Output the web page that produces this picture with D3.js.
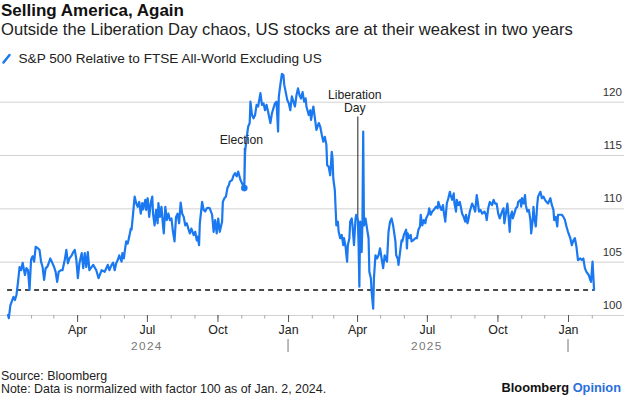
<!DOCTYPE html>
<html>
<head>
<meta charset="utf-8">
<script src="https://cdn.jsdelivr.net/npm/d3@7"></script>
<style>
  body { margin: 0; background: #fff; }
  text { font-family: "Liberation Sans", Arial, sans-serif; fill: #222; }
</style>
</head>
<body>
<svg id="chart" width="624" height="398"></svg>
<script>
// S&P 500 relative to FTSE All-World ex US, normalized to 100 on Jan. 2, 2024
var series = [
  ["2024-01-02",100.0],["2024-01-03",99.7],["2024-01-05",100.9],["2024-01-09",101.7],["2024-01-11",101.4],["2024-01-13",101.9],["2024-01-15",103.1],["2024-01-17",104.5],["2024-01-19",104.2],["2024-01-21",104.9],["2024-01-24",103.75],["2024-01-26",104.4],["2024-01-28",104.2],["2024-01-30",102.35],
  ["2024-02-01",105.2],["2024-02-03",105.5],["2024-02-05",105.0],["2024-02-07",106.4],["2024-02-10",106.25],["2024-02-12",106.1],["2024-02-14",105.0],["2024-02-16",104.5],["2024-02-18",103.3],["2024-02-20",104.4],["2024-02-22",104.5],["2024-02-24",104.85],["2024-02-26",105.3],["2024-02-28",105.0],
  ["2024-03-02",104.5],["2024-03-04",104.05],["2024-03-06",103.1],["2024-03-08",104.05],["2024-03-11",104.2],["2024-03-13",104.2],["2024-03-16",105.2],["2024-03-18",106.1],["2024-03-20",104.85],["2024-03-22",105.3],["2024-03-25",105.6],["2024-03-27",105.9],["2024-03-29",106.1],["2024-03-31",105.2],
  ["2024-04-02",103.45],["2024-04-04",104.85],["2024-04-07",105.8],["2024-04-09",104.4],["2024-04-11",105.8],["2024-04-13",104.5],["2024-04-15",105.9],["2024-04-17",104.2],["2024-04-22",104.7],["2024-04-26",104.2],["2024-04-29",103.45],
  ["2024-05-03",104.2],["2024-05-07",104.05],["2024-05-11",104.7],["2024-05-13",104.2],["2024-05-16",104.7],["2024-05-18",104.9],["2024-05-20",104.2],["2024-05-22",104.85],["2024-05-24",105.15],["2024-05-26",105.6],["2024-05-29",105.0],["2024-05-30",105.8],
  ["2024-06-01",105.3],["2024-06-02",105.9],["2024-06-04",106.9],["2024-06-06",106.7],["2024-06-08",107.35],["2024-06-10",108.1],["2024-06-11",108.0],["2024-06-13",109.5],["2024-06-15",111.1],["2024-06-17",110.5],["2024-06-19",110.15],["2024-06-21",110.6],["2024-06-23",109.5],["2024-06-25",110.5],["2024-06-26",109.9],["2024-06-29",110.8],["2024-06-30",109.85],
  ["2024-07-02",110.95],["2024-07-04",109.2],["2024-07-06",110.5],["2024-07-08",111.1],["2024-07-09",109.5],["2024-07-11",108.4],["2024-07-13",109.85],["2024-07-15",108.6],["2024-07-16",110.5],["2024-07-18",109.2],["2024-07-20",110.15],["2024-07-22",108.4],["2024-07-23",107.65],["2024-07-25",110.15],["2024-07-27",108.9],["2024-07-29",109.5],["2024-07-31",108.9],
  ["2024-08-02",109.05],["2024-08-04",107.8],["2024-08-06",106.9],["2024-08-08",109.2],["2024-08-10",109.5],["2024-08-12",108.6],["2024-08-14",110.55],["2024-08-16",109.5],["2024-08-18",109.2],["2024-08-20",108.4],["2024-08-22",108.6],["2024-08-24",108.1],["2024-08-26",107.65],["2024-08-28",108.1],["2024-08-31",107.5],
  ["2024-09-02",107.8],["2024-09-04",107.0],["2024-09-05",107.35],["2024-09-07",106.55],["2024-09-08",108.6],["2024-09-11",110.6],["2024-09-13",109.85],["2024-09-15",109.7],["2024-09-17",110.0],["2024-09-19",110.05],["2024-09-21",110.0],["2024-09-24",109.4],["2024-09-26",107.8],["2024-09-28",108.9],["2024-09-30",107.65],
  ["2024-10-02",109.05],["2024-10-04",107.8],["2024-10-07",108.75],["2024-10-08",110.6],["2024-10-10",110.95],["2024-10-12",111.1],["2024-10-14",111.9],["2024-10-16",112.2],["2024-10-17",112.5],["2024-10-20",112.65],["2024-10-22",113.1],["2024-10-24",113.3],["2024-10-26",113.0],["2024-10-28",113.45],["2024-10-31",112.65],
  ["2024-11-02",112.35],["2024-11-05",111.9],["2024-11-06",115.3],["2024-11-08",116.55],["2024-11-10",117.65],["2024-11-12",118.0],["2024-11-13",120.0],["2024-11-15",118.75],["2024-11-17",118.45],["2024-11-19",118.75],["2024-11-21",119.7],["2024-11-23",119.55],["2024-11-26",120.8],["2024-11-28",119.7],["2024-11-30",119.85],
  ["2024-12-02",119.2],["2024-12-04",119.7],["2024-12-06",119.05],["2024-12-09",118.0],["2024-12-11",118.9],["2024-12-13",119.4],["2024-12-15",119.85],["2024-12-17",120.0],["2024-12-19",117.2],["2024-12-20",120.5],["2024-12-22",121.6],["2024-12-24",122.6],["2024-12-26",122.5],["2024-12-27",121.6],["2024-12-29",120.9],["2024-12-31",120.15],
  ["2025-01-02",119.85],["2025-01-04",119.2],["2025-01-06",120.5],["2025-01-08",120.0],["2025-01-10",119.55],["2025-01-12",120.6],["2025-01-14",121.25],["2025-01-16",120.6],["2025-01-18",120.3],["2025-01-20",120.9],["2025-01-22",120.0],["2025-01-24",120.3],["2025-01-25",119.55],["2025-01-28",118.75],["2025-01-30",119.2],["2025-01-31",118.3],
  ["2025-02-03",119.55],["2025-02-05",118.45],["2025-02-07",117.35],["2025-02-10",118.0],["2025-02-12",117.65],["2025-02-14",116.9],["2025-02-16",116.25],["2025-02-18",116.7],["2025-02-20",115.95],["2025-02-21",114.05],["2025-02-23",113.9],["2025-02-25",113.1],["2025-02-27",115.3],["2025-02-28",114.7],
  ["2025-03-01",112.8],["2025-03-03",111.7],["2025-03-05",108.4],["2025-03-07",108.75],["2025-03-08",107.8],["2025-03-10",107.2],["2025-03-12",107.5],["2025-03-14",106.55],["2025-03-15",107.2],["2025-03-17",106.4],["2025-03-19",105.0],["2025-03-20",106.55],["2025-03-22",107.2],["2025-03-23",108.75],["2025-03-25",109.05],["2025-03-26",108.4],["2025-03-28",106.55],["2025-03-30",109.05],["2025-03-31",109.4],
  ["2025-04-02",108.9],["2025-04-03",106.55],["2025-04-04",102.65],["2025-04-05",108.75],["2025-04-06",107.8],["2025-04-07",105.9],["2025-04-08",108.75],["2025-04-09",117.2],["2025-04-10",108.4],["2025-04-12",109.05],["2025-04-14",108.1],["2025-04-16",107.2],["2025-04-17",104.05],["2025-04-19",103.45],["2025-04-20",102.2],["2025-04-22",100.6],["2025-04-23",103.45],["2025-04-25",105.6],["2025-04-27",105.3],["2025-04-29",105.6],
  ["2025-05-01",106.25],["2025-05-03",105.3],["2025-05-05",104.4],["2025-05-07",105.6],["2025-05-10",105.0],["2025-05-12",107.8],["2025-05-14",108.75],["2025-05-16",109.05],["2025-05-18",108.4],["2025-05-21",106.9],["2025-05-22",105.6],["2025-05-24",105.3],["2025-05-25",104.7],["2025-05-29",107.0],["2025-05-30",106.9],
  ["2025-06-01",107.5],["2025-06-04",108.0],["2025-06-05",106.25],["2025-06-06",107.65],["2025-06-08",107.2],["2025-06-10",107.5],["2025-06-11",106.9],["2025-06-13",107.0],["2025-06-16",107.2],["2025-06-18",107.2],["2025-06-20",108.0],["2025-06-22",108.3],["2025-06-23",109.4],["2025-06-25",108.4],["2025-06-27",108.9],["2025-06-29",108.6],["2025-06-30",109.05],
  ["2025-07-03",109.5],["2025-07-04",110.0],["2025-07-06",109.4],["2025-07-08",109.7],["2025-07-10",109.85],["2025-07-13",110.15],["2025-07-15",110.0],["2025-07-16",110.6],["2025-07-18",110.15],["2025-07-20",109.85],["2025-07-22",110.3],["2025-07-23",109.7],["2025-07-25",108.75],["2025-07-27",110.45],["2025-07-29",110.95],["2025-07-31",111.55],
  ["2025-08-01",111.25],["2025-08-03",110.8],["2025-08-05",111.4],["2025-08-06",110.45],["2025-08-08",109.7],["2025-08-09",110.8],["2025-08-11",110.3],["2025-08-13",110.6],["2025-08-16",109.5],["2025-08-18",109.2],["2025-08-20",108.75],["2025-08-21",109.4],["2025-08-23",108.6],["2025-08-24",108.9],["2025-08-26",109.7],["2025-08-29",110.45],["2025-08-31",110.15],
  ["2025-09-02",109.7],["2025-09-04",111.25],["2025-09-05",110.8],["2025-09-07",109.7],["2025-09-09",109.85],["2025-09-11",109.5],["2025-09-14",109.7],["2025-09-16",109.4],["2025-09-17",108.9],["2025-09-19",110.0],["2025-09-21",110.6],["2025-09-24",110.3],["2025-09-26",110.8],["2025-09-28",110.45],["2025-09-30",110.45],
  ["2025-10-02",109.5],["2025-10-04",109.05],["2025-10-07",109.7],["2025-10-09",110.0],["2025-10-10",108.6],["2025-10-12",109.5],["2025-10-14",110.45],["2025-10-15",109.7],["2025-10-17",107.8],["2025-10-18",109.2],["2025-10-20",109.7],["2025-10-21",109.05],["2025-10-23",109.5],["2025-10-25",110.0],["2025-10-27",110.15],["2025-10-28",110.6],["2025-10-31",110.8],
  ["2025-11-01",110.15],["2025-11-02",110.95],["2025-11-04",110.45],["2025-11-06",111.25],["2025-11-07",110.3],["2025-11-09",109.7],["2025-11-11",109.85],["2025-11-13",108.9],["2025-11-14",107.65],["2025-11-16",108.9],["2025-11-17",110.15],["2025-11-18",109.2],["2025-11-20",108.3],["2025-11-22",110.45],["2025-11-23",111.1],["2025-11-26",111.55],["2025-11-28",110.95],["2025-11-30",111.1],
  ["2025-12-02",110.8],["2025-12-04",110.6],["2025-12-06",110.45],["2025-12-09",110.95],["2025-12-11",110.3],["2025-12-13",109.85],["2025-12-14",108.9],["2025-12-16",109.2],["2025-12-18",108.3],["2025-12-19",109.4],["2025-12-22",109.4],["2025-12-24",109.4],["2025-12-26",109.2],["2025-12-28",108.9],["2025-12-30",108.3],
  ["2026-01-01",107.8],["2026-01-04",107.2],["2026-01-06",106.55],["2026-01-08",107.0],["2026-01-10",107.2],["2026-01-12",106.4],["2026-01-14",105.15],["2026-01-17",105.3],["2026-01-19",105.15],["2026-01-21",105.3],["2026-01-23",104.4],["2026-01-25",104.05],["2026-01-28",103.75],["2026-01-30",103.3],["2026-01-31",103.1],["2026-02-02",105.0],["2026-02-04",102.35]
];

var yTicks = [100, 105, 110, 115, 120];
var yearLabels = [["2024", "2024-07-01"], ["2025", "2025-07-01"]];
var yearBreaks = ["2025-01-01", "2026-01-01"];
var annotations = [
  { date: "2024-11-05", lines: ["Election"], dot: true },
  { date: "2025-04-02", lines: ["Liberation", "Day"], dot: false }
];

var title = "Selling America, Again";
var subtitle = "Outside the Liberation Day chaos, US stocks are at their weakest in two years";
var legendLabel = "S&P 500 Relative to FTSE All-World Excluding US";
var source = "Source: Bloomberg";
var note = "Note: Data is normalized with factor 100 as of Jan. 2, 2024.";

var blue = "#1a78f0";
var parseDate = d3.timeParse("%Y-%m-%d");

var data = series.map(function (d) {
    return { date: parseDate(d[0]), value: d[1] };
});

var svg = d3.select("#chart");

var x = d3.scaleTime()
    .domain([parseDate("2024-01-01"), parseDate("2026-01-01")])
    .range([7.3, 568]);
var y = d3.scaleLinear()
    .domain([100, 120])
    .range([315, 101.7]);

// header
svg.append("text").attr("x", 1).attr("y", 16)
    .style("font-size", "17px").style("font-weight", "bold").style("fill", "#111")
    .text(title);
svg.append("text").attr("x", 1).attr("y", 35)
    .style("font-size", "16.6px").style("fill", "#222")
    .text(subtitle);
svg.append("line")
    .attr("x1", 3.5).attr("y1", 62.5).attr("x2", 9.5).attr("y2", 55)
    .attr("stroke", blue).attr("stroke-width", 2.5).attr("stroke-linecap", "round");
svg.append("text").attr("x", 18.5).attr("y", 62.5)
    .style("font-size", "13.6px").style("fill", "#222")
    .text(legendLabel);

// y gridlines + labels (right side)
var yAxis = svg.append("g")
    .call(d3.axisRight(y).tickValues(yTicks).tickSize(624).tickFormat(d3.format("d")));
yAxis.select(".domain").remove();
yAxis.selectAll(".tick line").attr("stroke", "#d2d2d2").attr("stroke-width", 1);
yAxis.selectAll(".tick text")
    .attr("x", 622).attr("dy", -6.5).attr("text-anchor", "end")
    .style("font-size", "11.6px").style("fill", "#333").style("font-family", null);

// x axis: monthly minor ticks, quarterly ticks with labels
var months = d3.timeMonth.range(parseDate("2024-02-01"), parseDate("2026-02-02"));
var quarters = months.filter(function (d) { return d.getMonth() % 3 === 0; });

var xMinor = svg.append("g").attr("transform", "translate(0,315)")
    .call(d3.axisBottom(x).tickValues(months).tickSize(3.5).tickFormat(""));
xMinor.select(".domain").remove();
xMinor.selectAll(".tick line").attr("stroke", "#a8a8a8");

var xMajor = svg.append("g").attr("transform", "translate(0,315)")
    .call(d3.axisBottom(x).tickValues(quarters).tickSize(7).tickPadding(4).tickFormat(d3.timeFormat("%b")));
xMajor.select(".domain").remove();
xMajor.selectAll(".tick line").attr("stroke", "#555");
xMajor.selectAll(".tick text")
    .attr("y", 18.5).attr("dy", 0)
    .style("font-size", "12.4px").style("fill", "#222").style("font-family", null);

svg.selectAll(".year-label")
    .data(yearLabels)
    .enter().append("text")
    .attr("class", "year-label")
    .attr("x", function (d) { return x(parseDate(d[1])); })
    .attr("y", 349.5)
    .attr("text-anchor", "middle")
    .style("font-size", "11.8px").style("letter-spacing", "1.4px").style("fill", "#777")
    .text(function (d) { return d[0]; });

svg.selectAll(".year-break")
    .data(yearBreaks)
    .enter().append("line")
    .attr("class", "year-break")
    .attr("x1", function (d) { return x(parseDate(d)); })
    .attr("x2", function (d) { return x(parseDate(d)); })
    .attr("y1", 339).attr("y2", 352)
    .attr("stroke", "#777").attr("stroke-width", 1);

// dashed reference at the latest value
var last = data[data.length - 1];
svg.append("line")
    .attr("x1", x(data[0].date) - 1).attr("x2", x(last.date))
    .attr("y1", y(last.value)).attr("y2", y(last.value))
    .attr("stroke", "#111").attr("stroke-width", 1.6).attr("stroke-dasharray", "5,4");

// annotation leader lines (under the series)
var byDate = {};
data.forEach(function (d) { byDate[d3.timeFormat("%Y-%m-%d")(d.date)] = d.value; });

annotations.forEach(function (a) {
    var ax = x(parseDate(a.date));
    var top = a.lines.length > 1 ? 116.5 : 148;
    svg.append("line")
        .attr("x1", ax).attr("x2", ax)
        .attr("y1", top).attr("y2", y(byDate[a.date]))
        .attr("stroke", "#222").attr("stroke-width", 1);
});

// the series
var line = d3.line()
    .x(function (d) { return x(d.date); })
    .y(function (d) { return y(d.value); });

svg.append("path")
    .datum(data)
    .attr("d", line)
    .attr("fill", "none")
    .attr("stroke", blue)
    .attr("stroke-width", 2.2)
    .attr("stroke-linejoin", "round")
    .attr("stroke-linecap", "round");

annotations.forEach(function (a) {
    var ax = x(parseDate(a.date));
    if (a.dot) {
        svg.append("circle")
            .attr("cx", ax).attr("cy", y(byDate[a.date])).attr("r", 3.3)
            .attr("fill", blue);
    }
    var base = a.lines.length > 1 ? 98.5 : 143.5;
    a.lines.forEach(function (t, i) {
        svg.append("text")
            .attr("x", ax - 3).attr("y", base + i * 13.8)
            .attr("text-anchor", "middle")
            .style("font-size", "12.2px").style("fill", "#222")
            .text(t);
    });
});

// footer
svg.append("text").attr("x", 1).attr("y", 379.5)
    .style("font-size", "12.4px").style("fill", "#222").text(source);
svg.append("text").attr("x", 1).attr("y", 393)
    .style("font-size", "12.4px").style("fill", "#222").text(note);

var brand = svg.append("text").attr("x", 621).attr("y", 392)
    .attr("text-anchor", "end").style("font-size", "12.8px");
brand.append("tspan").style("font-weight", "bold").style("fill", "#111").text("Bloomberg ");
brand.append("tspan").style("fill", "#2a6fdb").style("font-weight", "bold").text("Opinion");
</script>
</body>
</html>
